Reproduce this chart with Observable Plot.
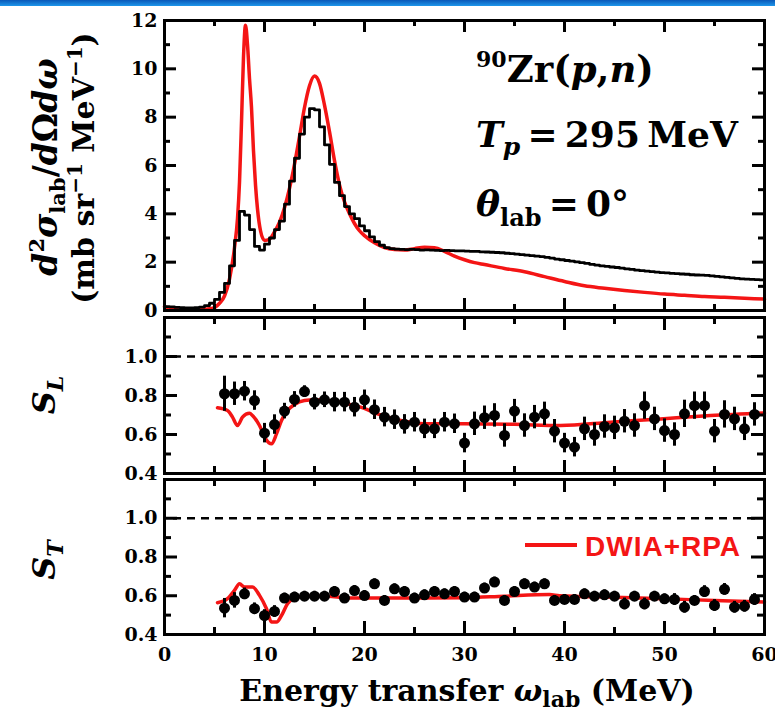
<!DOCTYPE html>
<html><head><meta charset="utf-8">
<script src="https://cdn.jsdelivr.net/npm/d3@7"></script>
<script src="https://cdn.jsdelivr.net/npm/@observablehq/plot@0.6"></script>
<style>
body{margin:0;background:#fff;width:775px;height:713px;overflow:hidden;position:relative}
#band{position:absolute;left:0;top:0;width:775px;height:6px;background:linear-gradient(#0a58b8,#1e96ea)}
svg.pp{position:absolute;left:0}
</style></head><body>
<div id="band"></div>
<script>
// ---------- data ----------
const histStart = 0, histWidth = 0.5; // bin layout of the measured spectrum (MeV)
const histValues = [0.16,0.15,0.13,0.12,0.11,0.11,0.12,0.14,0.2,0.3,
  0.46,0.75,1.12,1.85,2.9,4.1,3.95,3.35,2.65,2.5,
  2.75,3.0,3.35,3.7,4.4,5.35,6.3,7.3,8.0,8.35,
  8.3,7.6,6.85,6.05,5.3,4.75,4.3,4.0,3.8,3.5,
  3.3,3.05,2.85,2.7,2.6,2.56,2.54,2.53,2.52,2.53,
  2.52,2.5,2.51,2.5,2.49,2.48,2.49,2.48,2.47,2.47,
  2.46,2.45,2.45,2.43,2.42,2.41,2.4,2.39,2.37,2.35,
  2.33,2.31,2.29,2.27,2.25,2.23,2.2,2.17,2.13,2.1,
  2.07,2.04,2.01,1.98,1.95,1.91,1.88,1.85,1.83,1.8,
  1.78,1.75,1.72,1.7,1.67,1.65,1.63,1.61,1.59,1.57,
  1.56,1.54,1.53,1.51,1.5,1.48,1.47,1.46,1.45,1.43,
  1.41,1.39,1.37,1.35,1.33,1.31,1.3,1.29,1.28,1.27];

const calcX = [0,0.5,1,2,3,4,4.5,5,5.5,6,6.5,7,7.3,7.5,7.7,7.9,8.1,8.3,8.5,8.7,8.9,9.1,9.3,9.6,10,10.5,11,11.5,12,12.5,13,13.5,14,14.5,15,15.5,16,16.5,17,17.5,18,18.5,19,19.5,20,21,22,23,24,25,26,27,28,29,30,31,32,34,36,38,40,42,44,46,48,50,52,54,56,58,60];
const calcY = [0.16,0.1,0.07,0.05,0.04,0.05,0.07,0.12,0.3,0.6,1.3,2.6,3.8,5.3,7.8,10.5,11.8,11.0,9.6,8.4,6.6,5.2,4.2,3.3,2.9,2.95,3.25,3.65,4.25,5.05,6.05,7.2,8.4,9.3,9.7,9.4,8.5,7.4,6.2,5.2,4.5,4.0,3.6,3.3,3.1,2.8,2.6,2.52,2.5,2.56,2.62,2.6,2.45,2.25,2.1,1.98,1.9,1.74,1.6,1.4,1.2,1.02,0.92,0.83,0.75,0.68,0.63,0.58,0.55,0.51,0.47];

const sEnergy = [6,7,8,9,10,11,12,13,14,15,16,17,18,19,20,21,22,23,24,25,26,27,28,29,30,31,32,33,34,35,36,37,38,39,40,41,42,43,44,45,46,47,48,49,50,51,52,53,54,55,56,57,58,59];
const sLValues = [0.809,0.809,0.822,0.774,0.607,0.651,0.72,0.78,0.82,0.766,0.778,0.766,0.766,0.74,0.778,0.727,0.689,0.676,0.652,0.663,0.629,0.629,0.663,0.655,0.556,0.655,0.686,0.698,0.595,0.72,0.646,0.689,0.706,0.617,0.556,0.535,0.629,0.6,0.641,0.634,0.668,0.646,0.748,0.68,0.62,0.6,0.706,0.748,0.748,0.617,0.703,0.68,0.629,0.703];
const sLErrors = [0.09,0.06,0.05,0.05,0.05,0.05,0.04,0.04,0.03,0.04,0.04,0.05,0.05,0.05,0.05,0.05,0.05,0.05,0.05,0.05,0.05,0.05,0.05,0.05,0.05,0.06,0.06,0.06,0.06,0.06,0.06,0.06,0.06,0.06,0.05,0.05,0.06,0.06,0.06,0.06,0.06,0.06,0.07,0.06,0.06,0.06,0.07,0.07,0.07,0.06,0.07,0.06,0.06,0.06];
const sTValues = [0.536,0.576,0.61,0.533,0.498,0.519,0.588,0.593,0.598,0.598,0.598,0.622,0.588,0.627,0.601,0.662,0.576,0.636,0.622,0.588,0.605,0.622,0.61,0.622,0.593,0.593,0.64,0.671,0.576,0.622,0.662,0.645,0.662,0.576,0.581,0.581,0.61,0.598,0.605,0.598,0.558,0.598,0.558,0.598,0.584,0.581,0.541,0.576,0.622,0.55,0.633,0.541,0.546,0.581];
const sTErrors = [0.05,0.04,0.03,0.03,0.03,0.03,0.025,0.025,0.025,0.025,0.025,0.025,0.025,0.025,0.025,0.025,0.025,0.025,0.025,0.025,0.025,0.025,0.025,0.025,0.025,0.025,0.025,0.025,0.025,0.025,0.025,0.025,0.025,0.025,0.025,0.025,0.025,0.025,0.025,0.025,0.03,0.025,0.03,0.025,0.025,0.03,0.03,0.025,0.03,0.03,0.03,0.03,0.03,0.03];

const sLCalcX = [5.3,6.3,6.8,7.3,7.8,8.5,8.8,9.5,10.1,10.7,11.2,11.7,12.3,13,14,15,16.3,18,19.6,21.3,23,24.6,26.3,28,30,35,39.6,44.6,49.6,54.6,60];
const sLCalcY = [0.737,0.723,0.689,0.646,0.689,0.709,0.697,0.646,0.578,0.552,0.603,0.672,0.723,0.754,0.774,0.778,0.774,0.761,0.74,0.706,0.68,0.663,0.655,0.655,0.655,0.652,0.646,0.663,0.68,0.697,0.71];
const sTCalcX = [5.3,6.3,7,7.5,8,8.8,9.5,10.2,10.7,11.2,11.7,12.3,13,14,16.3,18.3,20,25,30,34,38.5,39.5,45,50,55,60];
const sTCalcY = [0.564,0.585,0.628,0.662,0.645,0.645,0.602,0.533,0.464,0.464,0.498,0.559,0.588,0.598,0.598,0.588,0.588,0.588,0.59,0.598,0.606,0.6,0.592,0.584,0.576,0.568];

const xMajor = [0,10,20,30,40,50,60];
const xMinor = [5,15,25,35,45,55];
const xLabels = [0,10,20,30,40,50,60];
const topYMajor = [0,2,4,6,8,10,12];
const topYMinor = [1,3,5,7,9,11];
const sYMajor = [0.4,0.6,0.8,1.0,1.2];
const sYMinor = [0.5,0.7,0.9,1.1];
const sYLabels = [0.4,0.6,0.8,1.0];
const unity = [1.0];
const xDomain = [0, 60];

// ---------- tables ----------
const hist = histValues.map((v, i) => ({x: histStart + i * histWidth, y: v}));
hist.push({x: histStart + histValues.length * histWidth, y: histValues[histValues.length - 1]});
const calc = calcX.map((x, i) => ({x, y: calcY[i]}));
const sL = sEnergy.map((x, i) => ({x, y: sLValues[i], e: sLErrors[i]}));
const sT = sEnergy.map((x, i) => ({x, y: sTValues[i], e: sTErrors[i]}));
const sLCalc = sLCalcX.map((x, i) => ({x, y: sLCalcY[i]}));
const sTCalc = sTCalcX.map((x, i) => ({x, y: sTCalcY[i]}));

const RED = "#f41515";
const W = 775, ML = 164, MR = 11;
const STYLE = {fontFamily: "DejaVu Serif", fontSize: "19px", fontWeight: "bold", color: "#000", background: "none", overflow: "visible"};

// inward-pointing ticks on all four sides (lengths given in pixels, converted to data units)
function tickMarks(yDom, plotH, yMaj, yMin, majLen, minLen) {
  const ux = (xDomain[1] - xDomain[0]) / (W - ML - MR);
  const uy = (yDom[1] - yDom[0]) / plotH;
  const [ya, yb] = yDom, [xa, xb] = xDomain;
  const o = {stroke: "#000", strokeWidth: 3};
  return [
    Plot.ruleX(xMajor, {...o, x: d => d, y1: ya, y2: ya + majLen * uy}),
    Plot.ruleX(xMinor, {...o, x: d => d, y1: ya, y2: ya + minLen * uy}),
    Plot.ruleX(xMajor, {...o, x: d => d, y1: yb, y2: yb - majLen * uy}),
    Plot.ruleX(xMinor, {...o, x: d => d, y1: yb, y2: yb - minLen * uy}),
    Plot.ruleY(yMaj, {...o, y: d => d, x1: xa, x2: xa + majLen * ux}),
    Plot.ruleY(yMin, {...o, y: d => d, x1: xa, x2: xa + minLen * ux}),
    Plot.ruleY(yMaj, {...o, y: d => d, x1: xb, x2: xb - majLen * ux}),
    Plot.ruleY(yMin, {...o, y: d => d, x1: xb, x2: xb - minLen * ux})
  ];
}

function place(svg, top) {
  svg.classList.add("pp");
  svg.style.top = top + "px";
  document.body.appendChild(svg);
}

// a panel = data layer + a tick/frame layer on top with identical scales
function panel(top, height, mt, mb, yDomain, marks, yMaj, yMin, majLen, minLen) {
  const base = {width: W, height, marginLeft: ML, marginRight: MR, marginTop: mt, marginBottom: mb, style: STYLE};
  place(Plot.plot({...base, x: {domain: xDomain}, y: {domain: yDomain}, marks}), top);
  place(Plot.plot({...base, x: {domain: xDomain, axis: null}, y: {domain: yDomain, axis: null},
    marks: [...tickMarks(yDomain, height - mt - mb, yMaj, yMin, majLen, minLen), Plot.frame({stroke: "#000", strokeWidth: 3})]}), top);
}

// top panel: cross section
panel(6, 308, 14, 4, [0, 12], [
  Plot.line(calc, {x: "x", y: "y", stroke: RED, strokeWidth: 3.5, curve: "monotone-x"}),
  Plot.line(hist, {x: "x", y: "y", stroke: "#000", strokeWidth: 2.8, curve: "step-after"}),
  Plot.axisY(topYMajor, {anchor: "left", tickSize: 0, tickPadding: 7, label: null}),
  Plot.axisX({anchor: "bottom", ticks: [], label: null})
], topYMajor, topYMinor, 12, 6);

// middle panel: S_L
panel(314, 163, 3, 4, [0.4, 1.2], [
  Plot.ruleY(unity, {stroke: "#000", strokeWidth: 2.6, strokeDasharray: "8,6", x1: 0.9, x2: 59.6}),
  Plot.line(sLCalc, {x: "x", y: "y", stroke: RED, strokeWidth: 3.5, curve: "monotone-x"}),
  Plot.ruleX(sL, {x: "x", y1: d => d.y - d.e, y2: d => d.y + d.e, stroke: "#000", strokeWidth: 3}),
  Plot.dot(sL, {x: "x", y: "y", r: 5.5, fill: "#000"}),
  Plot.axisY(sYLabels, {anchor: "left", tickSize: 0, tickPadding: 7, tickFormat: ".1f", label: null}),
  Plot.axisX({anchor: "bottom", ticks: [], label: null})
], sYMajor, sYMinor, 13, 7);

// bottom panel: S_T
panel(477, 236, 2, 79, [0.4, 1.2], [
  Plot.ruleY(unity, {stroke: "#000", strokeWidth: 2.6, strokeDasharray: "8,6", x1: 0.9, x2: 59.6}),
  Plot.line(sTCalc, {x: "x", y: "y", stroke: RED, strokeWidth: 3.5, curve: "monotone-x"}),
  Plot.ruleX(sT, {x: "x", y1: d => d.y - d.e, y2: d => d.y + d.e, stroke: "#000", strokeWidth: 3}),
  Plot.dot(sT, {x: "x", y: "y", r: 5.5, fill: "#000"}),
  Plot.axisY(sYLabels, {anchor: "left", tickSize: 0, tickPadding: 7, tickFormat: ".1f", label: null}),
  Plot.axisX(xLabels, {anchor: "bottom", tickSize: 0, tickPadding: 13, label: null})
], sYMajor, sYMinor, 13, 7);

// ---------- rich text (titles, axis titles, legend) ----------
const ov = d3.select("body").append("svg")
  .attr("width", 775).attr("height", 713)
  .style("position", "absolute").style("left", 0).style("top", 0)
  .attr("font-family", "DejaVu Serif").attr("font-weight", "bold");

function addText(x, y, parts, {size, anchor = "start", rotate = 0, fill = "#000", family, spacing} = {}) {
  const t = ov.append("text")
    .attr("transform", `translate(${x},${y}) rotate(${rotate})`)
    .attr("text-anchor", anchor).attr("font-size", size).attr("fill", fill);
  if (family) t.attr("font-family", family);
  if (spacing) t.attr("letter-spacing", spacing);
  for (const p of parts) {
    const s = t.append("tspan").text(p.t);
    if (p.i) s.attr("font-style", "italic");
    if (p.s) s.attr("font-size", p.s);
    if (p.dy) s.attr("dy", p.dy);
  }
}

addText(476, 82, [{t: "90", s: 22, dy: -15}, {t: "Zr(", dy: 15}, {t: "p", i: 1}, {t: ","}, {t: "n", i: 1}, {t: ")"}], {size: 37});
addText(476, 147, [{t: "T", i: 1}, {t: "p", i: 1, s: 25, dy: 8}, {t: "\u2009=\u2009295\u2009MeV", dy: -8}], {size: 36});
addText(476, 216, [{t: "θ", i: 1}, {t: "lab", s: 24, dy: 10}, {t: "\u2009=\u20090°", dy: -10}], {size: 36});

addText(57, 167, [{t: "d", i: 1}, {t: "2", s: 21, dy: -13}, {t: "σ", i: 1, dy: 13}, {t: "lab", s: 21, dy: 8}, {t: "/", dy: -8}, {t: "d", i: 1}, {t: "Ω"}, {t: "d", i: 1}, {t: "ω", i: 1}], {size: 33, anchor: "middle", rotate: -90});
addText(94, 168, [{t: "(mb sr"}, {t: "−1", s: 20, dy: -12}, {t: " MeV", dy: 12}, {t: "−1", s: 20, dy: -12}, {t: ")", dy: 12}], {size: 30, anchor: "middle", rotate: -90});

addText(55, 395, [{t: "S", i: 1}, {t: "L", i: 1, s: 22, dy: 8}], {size: 32, anchor: "middle", rotate: -90});
addText(55, 560, [{t: "S", i: 1}, {t: "T", i: 1, s: 22, dy: 8}], {size: 32, anchor: "middle", rotate: -90});

addText(467, 701, [{t: "Energy transfer "}, {t: "ω", i: 1}, {t: "lab", s: 22, dy: 6}, {t: " (MeV)", dy: -6}], {size: 30, anchor: "middle"});

// legend
ov.append("line").attr("x1", 525).attr("x2", 577).attr("y1", 545).attr("y2", 545).attr("stroke", RED).attr("stroke-width", 4);
addText(585, 556, [{t: "DWIA+RPA"}], {size: 28, fill: RED, family: "Liberation Sans", spacing: 1});
</script>
</body></html>
